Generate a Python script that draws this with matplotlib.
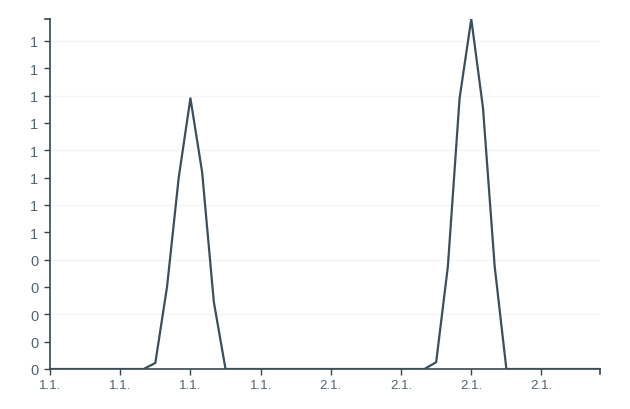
import numpy as np
import matplotlib
matplotlib.use("Agg")
import matplotlib.pyplot as plt

# hourly values over two days (x = hour index 0..47)
hours = np.arange(48)
values = np.zeros(48)
# first peak
values[9:15] = [0.022, 0.30, 0.70, 0.99, 0.72, 0.245]
# second peak
values[33:39] = [0.025, 0.375, 0.99, 1.28, 0.955, 0.375]

x_ticks = [0, 6, 12, 18, 24, 30, 36, 42]
x_labels = ["1.1.", "1.1.", "1.1.", "1.1.", "2.1.", "2.1.", "2.1.", "2.1."]
y_ticks = [0.0, 0.1, 0.2, 0.3, 0.4, 0.5, 0.6, 0.7, 0.8, 0.9, 1.0, 1.1, 1.2]
y_labels = ["0", "0", "0", "0", "0", "1", "1", "1", "1", "1", "1", "1", "1"]
grid_vals = [0.2, 0.4, 0.6, 0.8, 1.0, 1.2]

line_col = "#3b4f5a"
axis_col = "#37474f"
text_col = "#52646e"

plt.rcParams['font.family'] = ['Liberation Sans', 'DejaVu Sans']

fig = plt.figure(figsize=(6.3, 4.1), dpi=100)
ax = fig.add_axes([50 / 630, 40 / 410, 550 / 630, 350 / 410])

for g in grid_vals:
    ax.axhline(g, color="#f5f5f5", lw=1, zorder=0)

ax.plot(hours, values, color=line_col, lw=1.6, zorder=3)

ax.set_xlim(hours[0], hours[-1])
ax.set_ylim(0, values.max())

ax.set_xticks(x_ticks)
ax.set_xticklabels(x_labels, fontsize=9.5, color=text_col)
ax.set_yticks(y_ticks)
ax.set_yticklabels(y_labels, fontsize=10.5, color=text_col)

ax.tick_params(axis="both", color=axis_col, length=4.5, width=1)
ax.tick_params(axis="x", pad=3)
ax.tick_params(axis="y", pad=4)

for side in ["top", "right"]:
    ax.spines[side].set_visible(False)
for side in ["left", "bottom"]:
    ax.spines[side].set_color(axis_col)
    ax.spines[side].set_linewidth(1.2)

# outer ticks at the axis ends (d3 style)
ax.plot([hours[-1], hours[-1]], [0, -0.02], color=axis_col, lw=1.2, clip_on=False)
ax.plot([0, -0.4], [values.max(), values.max()], color=axis_col, lw=1.2, clip_on=False)

fig.savefig("out.png", dpi=100)
